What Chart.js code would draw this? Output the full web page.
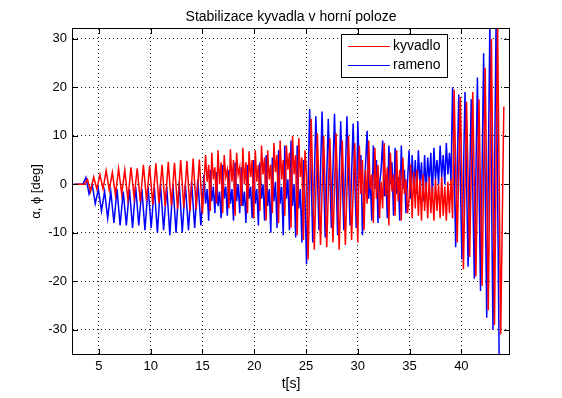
<!DOCTYPE html>
<html>
<head>
<meta charset="utf-8">
<script src="https://cdn.jsdelivr.net/npm/chart.js@4"></script>
<style>
    body { margin: 0; background: #fff; }
    #wrap { width: 562px; height: 398px; }
</style>
</head>
<body>
<div id="wrap"><canvas id="chart" width="562" height="398"></canvas></div>
<script>
var chartTitle = 'Stabilizace kyvadla v horní poloze';
var xLabel = 't[s]';
var yLabel = 'α, ϕ [deg]';
var xTicks = [5, 10, 15, 20, 25, 30, 35, 40];
var yTicks = [-30, -20, -10, 0, 10, 20, 30];
var seriesNames = ['kyvadlo', 'rameno'];

// readings are taken in five time segments; the busy ones are read twice as often
var segmentStart = [2.7, 15.3, 25.2, 30.15, 39.3];
var segmentStep = [0.3, 0.15, 0.3, 0.15, 0.3];
var ramenoShift = -0.15;

// kyvadlo (red)
var kyvadloA = [
    0, 0, 0, 0, 1.0, -1.5, 1.5, -1.0,
    2.0, -1.0, 2.8, -1.2, 2.4, -2.2, 3.2, -2.0, 2.9, -3.1, 3.5, -2.8, 3.3, -3.6, 4.0, -3.4,
    3.8, -4.2, 4.3, -3.9, 4.0, -4.6, 4.6, -4.4, 4.4, -5.1, 5.0, -4.8, 4.8, -5.5, 5.3, -5.2, 5.1, -6.0
];
var kyvadloB = [
    6.0, 0.5, 4.0, -5.5, 6.5, 1.0, 3.5, -4.0, 7.0, 0.0, 4.5, -6.0, 6.0, 1.5, 3.0, -5.0,
    7.2, 0.5, 5.0, -6.5, 6.5, 2.0, 3.5, -4.5, 7.5, 0.0, 4.5, -6.0, 6.8, 1.5, 5.0, -7.0,
    7.0, 0.5, 4.0, -5.5, 8.0, 2.0, 5.5, -7.5, 7.0, 1.0, 4.0, -6.0, 8.5, 2.5, 6.0, -8.0,
    9.0, 1.0, 5.0, -6.5, 8.0, 3.0, 6.5, -9.0, 10.0, 2.0, 6.0, -10.5, 9.5, 1.5, 5.5, -11.5,
    7.0, 2.0
];
var kyvadloC = [
    -15.5, 13.5, -13.5, 10.5, -12.5, 10.0, -13.0, 9.5, -12.0, 10.5, -13.5, 9.0, -12.5, 10.0, -11.5, 8.5, -12.0
];
var kyvadloD = [
    8.0, -2.0, 5.0, -9.5, 3.0, -4.0, 9.0, -1.0, 2.0, -8.0, 7.5, -3.0, 4.0, -7.0, 0.5, -5.0, 8.5,
    -2.5, 3.5, -8.5, 6.5, -1.5, 2.0, -6.5, 7.0, -3.5, 3.0, -7.5, 5.5, -2.0, 1.0, -6.0, -3.0, 4.0,
    -7.0, 2.5, -5.0, 3.0, -6.5, 1.0, -7.5, 2.0, -5.5, 0.5, -7.0, 1.5, -6.0, -0.5,
    -7.5, 1.0, -5.5, 0.0, -7.0, 1.5, -6.5, -0.5, -7.5, 0.5, -6.0, 1.0, -7.0
];
var kyvadloE = [
    19.5, -12.0, 18.0, -17.5, 17.0, -15.0, 19.0, -19.0, 17.5, -21.0, 24.0, -26.0, 30.0, -29.0, 33.0, -31.0, 16.0
];

// rameno (blue)
var ramenoA = [
    0, 0, 0, 0, 1.4, -2.0, 0.0, -4.0,
    -1.0, -5.5, -1.5, -7.0, -1.5, -8.0, -1.0, -8.5, -1.5, -8.5, -1.0, -9.0, -0.5, -8.5, -1.0, -9.5,
    -0.5, -9.0, -0.5, -10.0, 0.0, -9.5, -0.5, -10.5, 0.0, -10.0, 0.5, -10.0, 0.0, -9.5, 0.5, -9.0, 1.0, -8.5
];
var ramenoB = [
    2.0, -4.0, -1.0, -7.5, 3.0, -3.5, -0.5, -6.0, 2.5, -4.5, -1.5, -7.0, 4.0, -3.0, -0.5, -6.5,
    3.0, -4.0, -1.0, -7.5, 4.5, -3.5, 0.0, -6.0, 3.5, -4.5, -1.5, -8.0, 4.0, -3.0, -0.5, -7.0,
    5.0, -4.0, -1.0, -8.5, 4.5, -3.0, 0.0, -7.5, 6.0, -4.5, -1.0, -10.0, 5.5, -3.5, 0.5, -9.0,
    7.0, -4.0, -0.5, -10.5, 8.0, -3.0, 1.0, -9.5, 9.0, -4.5, 0.0, -11.0, 8.0, -5.0, -1.0, -12.0,
    5.0, -3.0
];
var ramenoC = [
    -16.5, 15.5, -12.0, 14.0, -9.5, 15.0, -11.0, 13.5, -9.0, 14.5, -10.5, 13.0, -9.5, 14.0, -8.5, 12.5, -9.0
];
var ramenoD = [
    13.0, 2.0, 6.0, -10.5, -2.0, 4.0, 11.0, -3.0, 1.0, -7.5, 8.0, -1.0, 5.0, -8.0, 0.0, 3.0, 9.0,
    -2.5, 2.0, -7.0, 8.0, 0.0, 4.5, -6.5, 7.5, -2.0, 1.5, -7.5, 8.0, -1.0, 3.0, -6.0, 0.5, 7.0,
    -3.0, 6.0, -1.0, 5.0, -2.0, 7.0, 0.0, 4.5, -3.5, 6.0, -1.5, 5.5, 0.5, 6.5,
    -2.5, 7.5, 1.0, 5.0, 0.0, 8.0, 1.5, 6.0, 0.0, 8.5, 2.0, 6.5, 0.5
];
var ramenoE = [
    20.0, -13.0, 18.5, -15.5, 19.0, -17.0, 17.5, -19.5, 22.0, -22.0, 27.0, -27.5, 33.0, -30.0, 33.0, -36.0
];

var FONT = '"Liberation Sans", Arial, sans-serif';

function toPoints(segments, shift) {
    var pts = [];
    segments.forEach(function (values, s) {
        values.forEach(function (v, i) {
            pts.push({ x: segmentStart[s] + shift + i * segmentStep[s], y: v });
        });
    });
    return pts;
}

// matlab style box, inward ticks, titles and legend
var matlabAxes = {
    id: 'matlabAxes',
    afterDatasetsDraw: function (chart) {
        var ctx = chart.ctx;
        var a = chart.chartArea;
        var xs = chart.scales.x, ys = chart.scales.y;
        ctx.save();
        ctx.strokeStyle = '#000';
        ctx.lineWidth = 1;
        ctx.strokeRect(a.left - 0.5, a.top - 0.5, a.right - a.left + 1, a.bottom - a.top + 1);

        ctx.beginPath();
        xTicks.forEach(function (v) {
            var px = Math.round(xs.getPixelForValue(v)) + 0.5;
            ctx.moveTo(px, a.bottom); ctx.lineTo(px, a.bottom - 5);
            ctx.moveTo(px, a.top); ctx.lineTo(px, a.top + 5);
        });
        yTicks.forEach(function (v) {
            var py = Math.round(ys.getPixelForValue(v)) + 0.5;
            ctx.moveTo(a.left, py); ctx.lineTo(a.left + 5, py);
            ctx.moveTo(a.right, py); ctx.lineTo(a.right - 5, py);
        });
        ctx.stroke();

        ctx.fillStyle = '#000';
        ctx.font = '14px ' + FONT;
        ctx.textAlign = 'center';
        ctx.textBaseline = 'alphabetic';
        ctx.fillText(chartTitle, (a.left + a.right) / 2, 21);

        ctx.textBaseline = 'middle';
        ctx.fillText(xLabel, (a.left + a.right) / 2, 384);

        ctx.save();
        ctx.translate(36, (a.top + a.bottom) / 2);
        ctx.rotate(-Math.PI / 2);
        ctx.font = '13px ' + FONT;
        ctx.fillText(yLabel, 0, 0);
        ctx.restore();

        // legend
        ctx.fillStyle = '#fff';
        ctx.fillRect(342, 35, 105, 42);
        ctx.strokeRect(341.5, 34.5, 106, 43);
        var colors = ['#ff0000', '#0000ff'];
        var rows = [46, 65];
        ctx.textAlign = 'left';
        ctx.font = '14px ' + FONT;
        for (var i = 0; i < 2; i++) {
            ctx.strokeStyle = colors[i];
            ctx.beginPath();
            ctx.moveTo(348, rows[i] + 0.5);
            ctx.lineTo(390, rows[i] + 0.5);
            ctx.stroke();
            ctx.fillStyle = '#000';
            ctx.fillText(seriesNames[i], 393, rows[i]);
        }
        ctx.restore();
    }
};

var ctx = document.getElementById('chart').getContext('2d');
var myChart = new Chart(ctx, {
    type: 'line',
    data: {
        datasets: [{
            label: seriesNames[0],
            data: toPoints([kyvadloA, kyvadloB, kyvadloC, kyvadloD, kyvadloE], 0),
            borderColor: '#ff0000',
            borderWidth: 1.5,
            pointRadius: 0,
            tension: 0,
            fill: false,
            clip: 0
        }, {
            label: seriesNames[1],
            data: toPoints([ramenoA, ramenoB, ramenoC, ramenoD, ramenoE], ramenoShift),
            borderColor: '#0000ff',
            borderWidth: 1.5,
            pointRadius: 0,
            tension: 0,
            fill: false,
            clip: 0
        }]
    },
    options: {
        responsive: false,
        animation: false,
        layout: { padding: { left: 0, top: 29, right: 53, bottom: 0 } },
        plugins: {
            legend: { display: false },
            tooltip: { enabled: false },
            title: { display: false }
        },
        scales: {
            x: {
                type: 'linear',
                min: 2.5,
                max: 44.6,
                afterBuildTicks: function (scale) {
                    scale.ticks = xTicks.map(function (v) { return { value: v }; });
                },
                afterFit: function (scale) { scale.height = 44; },
                grid: { color: '#222', lineWidth: 1, drawTicks: false },
                border: { display: false, dash: [1, 3] },
                ticks: { color: '#000', padding: 5, maxRotation: 0, font: { family: FONT, size: 13 } }
            },
            y: {
                type: 'linear',
                min: -35,
                max: 32,
                afterBuildTicks: function (scale) {
                    scale.ticks = yTicks.map(function (v) { return { value: v }; });
                },
                afterFit: function (scale) { scale.width = 73; },
                grid: { color: '#222', lineWidth: 1, drawTicks: false },
                border: { display: false, dash: [1, 3] },
                ticks: { color: '#000', padding: 6, font: { family: FONT, size: 13 } }
            }
        }
    },
    plugins: [matlabAxes]
});
</script>
</body>
</html>
